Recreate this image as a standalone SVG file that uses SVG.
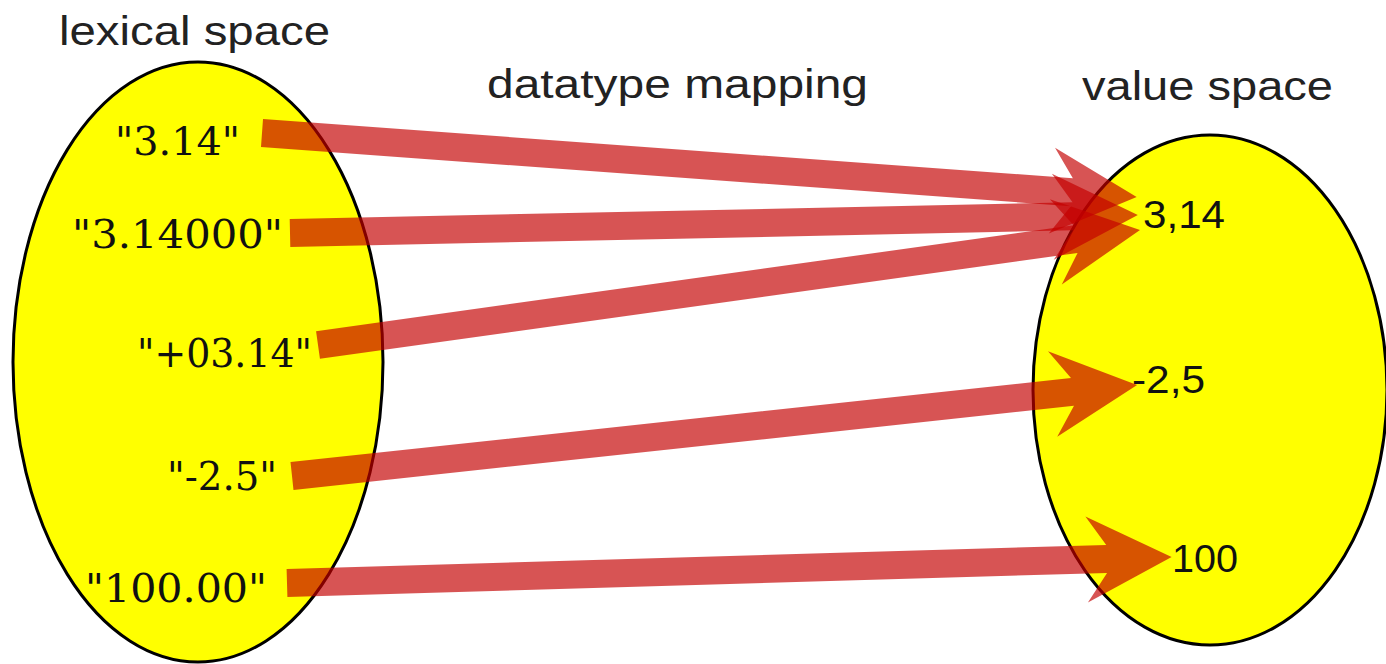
<svg xmlns="http://www.w3.org/2000/svg" width="1386" height="664" viewBox="0 0 1386 664">
  <style>
    .space { fill: #ffff00; stroke: #000; stroke-width: 3; }
    .title { font-family: "Liberation Sans", Arial, sans-serif; font-size: 40px; fill: #222; }
    .lex { font-family: "DejaVu Serif", "Liberation Serif", serif; font-size: 40px; fill: #111; }
    .val { font-family: "Liberation Sans", Arial, sans-serif; font-size: 38px; fill: #111; }
    .arrow { fill: #c30000; fill-opacity: 0.67; }
  </style>

  <rect width="1386" height="664" fill="#fff"/>

  <!-- headings -->
  <text class="title" x="59" y="45" textLength="271" lengthAdjust="spacingAndGlyphs">lexical space</text>
  <text class="title" x="487" y="98" textLength="381" lengthAdjust="spacingAndGlyphs">datatype mapping</text>
  <text class="title" x="1082" y="100" textLength="251" lengthAdjust="spacingAndGlyphs">value space</text>

  <!-- lexical space -->
  <g id="lexical-space">
    <ellipse class="space" cx="198" cy="362" rx="185" ry="300"/>
    <text class="lex" x="115" y="155" textLength="125" lengthAdjust="spacingAndGlyphs">"3.14"</text>
    <text class="lex" x="72" y="248" textLength="211" lengthAdjust="spacingAndGlyphs">"3.14000"</text>
    <text class="lex" x="137" y="367" textLength="175" lengthAdjust="spacingAndGlyphs">"+03.14"</text>
    <text class="lex" x="167" y="490" textLength="110" lengthAdjust="spacingAndGlyphs">"-2.5"</text>
    <text class="lex" x="85" y="602" textLength="182" lengthAdjust="spacingAndGlyphs">"100.00"</text>
  </g>

  <!-- value space -->
  <g id="value-space">
    <ellipse class="space" cx="1210" cy="390" rx="177" ry="255"/>
    <text class="val" x="1143" y="228" textLength="82" lengthAdjust="spacingAndGlyphs">3,14</text>
    <text class="val" x="1132" y="393" textLength="73" lengthAdjust="spacingAndGlyphs">-2,5</text>
    <text class="val" x="1172" y="572" textLength="66" lengthAdjust="spacingAndGlyphs">100</text>
  </g>

  <!-- mapping arrows: shaft + swept-back head, drawn along +x then rotated -->
  <g id="connectors">
    <path class="arrow" transform="translate(262,133) rotate(4.18)"
          d="M0,-14 L812,-14 L792,-43 L877,0 L792,43 L812,14 L0,14 Z"/>
    <path class="arrow" transform="translate(290,233) rotate(-1.22)"
          d="M0,-14 L783,-14 L763,-43 L848,0 L763,43 L783,14 L0,14 Z"/>
    <path class="arrow" transform="translate(318,345) rotate(-7.96)"
          d="M0,-14 L765,-14 L745,-43 L830,0 L745,43 L765,14 L0,14 Z"/>
    <path class="arrow" transform="translate(292,476) rotate(-6.15)"
          d="M0,-14 L785,-14 L765,-43 L850,0 L765,43 L785,14 L0,14 Z"/>
    <path class="arrow" transform="translate(287,583) rotate(-1.68)"
          d="M0,-14 L820,-14 L800,-43 L885,0 L800,43 L820,14 L0,14 Z"/>
  </g>
</svg>
